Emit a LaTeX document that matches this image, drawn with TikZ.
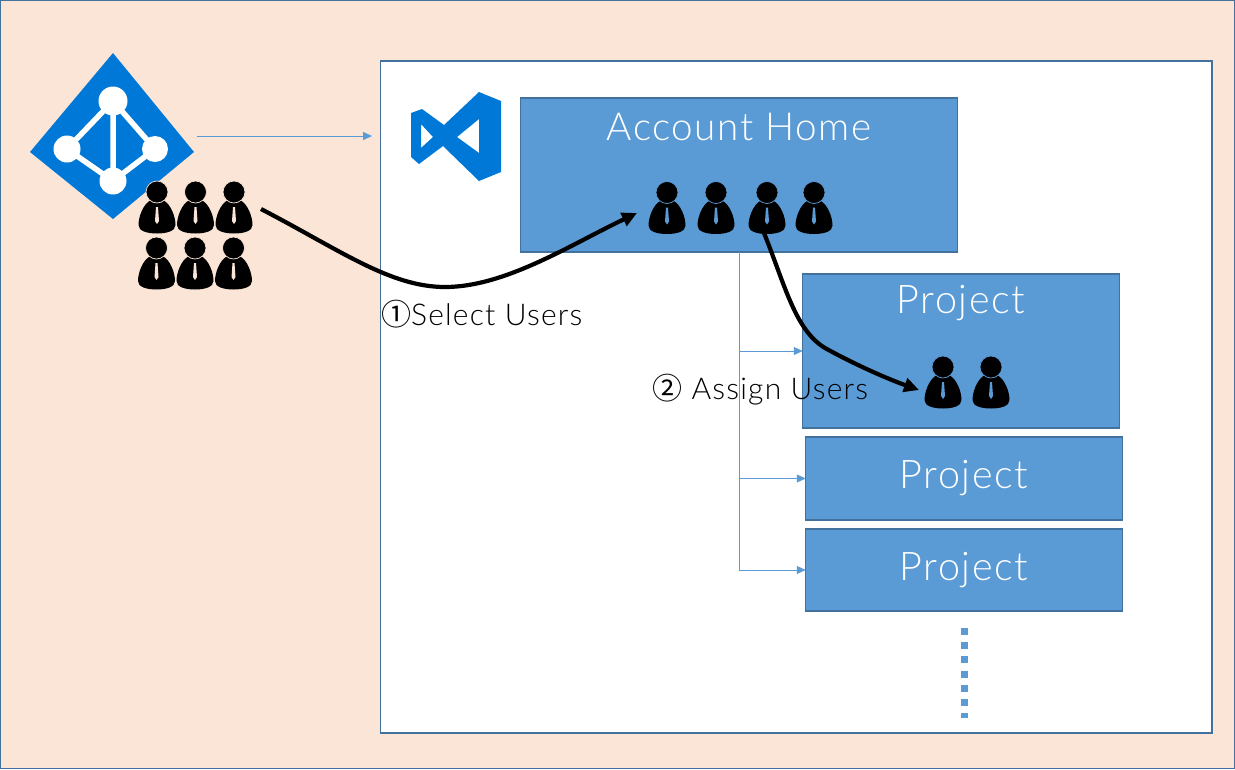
\documentclass[tikz,border=0pt]{standalone}
\usepackage{fontspec}
\usetikzlibrary{arrows.meta}
\setmainfont[UprightFont=* Light,LetterSpace=4]{Lato}
\newfontfamily\circfont{Noto Sans CJK JP}
\definecolor{pagepeach}{HTML}{FBE5D6}
\definecolor{panelblue}{HTML}{5B9BD5}
\definecolor{edgeblue}{HTML}{41719C}
\definecolor{logoblue}{HTML}{0078D7}
\tikzset{
  panel/.style = {draw = edgeblue, fill = panelblue, line width = 1.2pt, minimum width = 316.5pt, outer sep = 0pt},
  paneltext/.style = {text = white, font = \fontsize{39.5}{39.5}\selectfont},
  steptext/.style = {font = \fontsize{30}{30}\selectfont, anchor = west, inner sep = 0pt},
  thinline/.style = {draw = panelblue, line width = 0.8pt, -{Triangle[length = 9pt, width = 8pt]}},
  boldline/.style = {line width = 4.2pt, -{Triangle[length = 15pt, width = 14pt]}},
  pics/person/.style = {code = {
    \fill (-6,8) .. controls (-14,12) and (-18.5,25) .. (-18.5,33) .. controls (-18.5,39) and (-10,41.5) .. (0,41.5)
      .. controls (10,41.5) and (18.5,39) .. (18.5,33) .. controls (18.5,25) and (14,12) .. (6,8) -- cycle;
    \fill[draw = #1, line width = 0.7pt] (0,0) circle (11);
    \fill[#1] (-1,15) -- (1,15) -- (2,29) -- (0,32) -- (-2,29) -- cycle;
  }}
}
\begin{document}
\begin{tikzpicture}[x = 1pt, y = -1pt]
\useasboundingbox (0,0) rectangle (1235,769);
\draw[draw = edgeblue, fill = pagepeach, line width = 1.5pt] (0.5,0.5) rectangle (1234.5,768.5);
\draw[draw = edgeblue, fill = white, line width = 1.2pt] (380.5,61) rectangle (1212,733);

% directory logo
\fill[logoblue] (113,53) -- (194,152) -- (113,219) -- (30,152) -- cycle;
\draw[white, line width = 5.5pt] (113,101) -- (67,149) -- (113,181) -- (155,149) -- cycle (113,101) -- (113,181);
\fill[white] (113,101) circle (14.5);
\fill[white] (67,149) circle (13.5);
\fill[white] (155,149) circle (13);
\fill[white] (113,181) circle (13.5);

% studio logo
\fill[logoblue, even odd rule] (411,113) -- (422,109) -- (444,125) -- (479,92) -- (501,101) -- (501,172) -- (479,181) -- (443,146) -- (419,164) -- (411,157) -- cycle
  (421,124) -- (433,137) -- (421,148) -- cycle
  (479,119) -- (457,137) -- (479,153) -- cycle;

\node[panel, minimum width = 437pt, minimum height = 154pt] (home) at (739,175) {};
\node[panel, minimum height = 154pt] (projecta) at (961,351) {};
\node[panel, minimum height = 83pt] (projectb) at (964,478.5) {};
\node[panel, minimum height = 82pt] (projectc) at (964,570) {};

\node[paneltext, font = \fontsize{38.6}{38.6}\selectfont] (hometext) at (739,127) {Account Home};
\node[paneltext] (projectatext) at (961,303.5) {Project};
\node[paneltext] (projectbtext) at (964,478.5) {Project};
\node[paneltext] (projectctext) at (964,570.5) {Project};

\coordinate (logoout) at (197,136);
\coordinate (logoin) at (372,136);
\draw[thinline] (logoout) -- (logoin);
\draw[thinline] (home.south) |- (projecta.west);
\draw[thinline] (home.south) |- (projectb.west);
\draw[thinline] (home.south) |- (projectc.west);

\draw[panelblue, line width = 7pt, dash pattern = on 7pt off 7.2pt] (964,628) -- (964,718);

% people
\foreach \px in {157,195.5,234} \pic at (\px,192) {person = pagepeach};
\foreach \px in {156.5,195,233.5} \pic at (\px,248) {person = pagepeach};
\foreach \px in {667,716,767,814} \pic at (\px,192.5) {person = panelblue};
\foreach \px in {943,991} \pic at (\px,367) {person = panelblue};

\coordinate (groupout) at (261,209);
\coordinate (groupin) at (637,213);
\coordinate (userout) at (764,233);
\coordinate (userin) at (919,390);
\draw[boldline] (groupout) .. controls (340,250) and (390,287) .. (445,287) .. controls (505,287) and (570,245) .. (groupin);
\draw[boldline] (userout) .. controls (785,285) and (795,330) .. (825,348) .. controls (850,362) and (885,378) .. (userin);

\node[steptext] (selecttext) at (381,314.5) {{\circfont ①}Select Users};
\node[steptext] (assigntext) at (652,389.5) {{\circfont ②} Assign Users};
\end{tikzpicture}
\end{document}
